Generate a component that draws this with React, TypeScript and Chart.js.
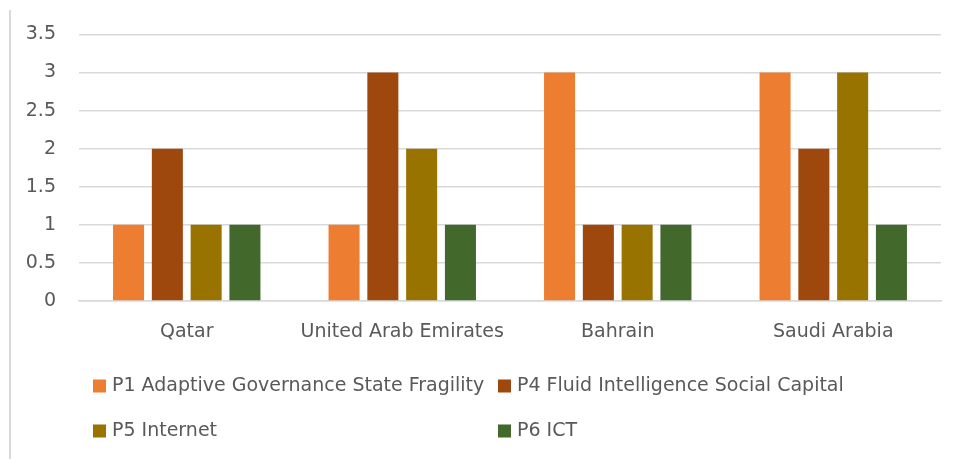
import React, { useEffect, useRef } from "react";
import { Chart, registerables } from "chart.js";

Chart.register(...registerables);

const categories = ["Qatar", "United Arab Emirates", "Bahrain", "Saudi Arabia"];
const seriesNames = [
  "P1 Adaptive Governance State Fragility",
  "P4 Fluid Intelligence Social Capital",
  "P5 Internet",
  "P6 ICT",
];
const p1Values = [1, 1, 3, 3];
const p4Values = [2, 3, 1, 2];
const p5Values = [1, 2, 1, 3];
const p6Values = [1, 1, 1, 1];
const seriesColors = ["#ED7D31", "#9E480E", "#997300", "#43682B"];

const FONT = "'DejaVu Sans', sans-serif";
const FONT_SIZE = 19;
const TEXT = "#595959";
const GRID = "#d9d9d9";

const gridLegend = {
  id: "gridLegend",
  afterDraw(chart: any) {
    const ctx = chart.ctx;
    const colX = [93, 498];
    const rowY = [386, 431];
    ctx.save();
    ctx.font = `${FONT_SIZE}px ${FONT}`;
    ctx.textBaseline = "middle";
    ctx.textAlign = "left";
    chart.data.datasets.forEach((ds: any, i: number) => {
      const x = colX[i % 2];
      const y = rowY[Math.floor(i / 2)];
      ctx.fillStyle = ds.backgroundColor;
      ctx.fillRect(x, y - 6.5, 13, 13);
      ctx.fillStyle = TEXT;
      ctx.fillText(ds.label, x + 19, y);
    });
    ctx.restore();
  },
};

export default function App() {
  const ref = useRef<HTMLCanvasElement>(null);
  useEffect(() => {
    document.body.style.margin = "0";
    const values = [p1Values, p4Values, p5Values, p6Values];
    const chart = new Chart(ref.current!, {
      type: "bar",
      data: {
        labels: categories,
        datasets: seriesNames.map((name, i) => ({
          label: name,
          data: values[i],
          backgroundColor: seriesColors[i],
          categoryPercentage: 0.72,
          barPercentage: 0.8,
        })),
      },
      options: {
        responsive: false,
        animation: false,
        layout: { padding: { top: 33, right: 25, bottom: 98, left: 0 } },
        plugins: { legend: { display: false }, tooltip: { enabled: false } },
        scales: {
          x: {
            grid: { display: false, drawTicks: false },
            border: { display: true, color: GRID, width: 1.5 },
            ticks: { color: TEXT, font: { family: FONT, size: FONT_SIZE }, padding: 20, maxRotation: 0 },
            afterFit: (s: any) => { s.height = 60; },
          },
          y: {
            min: 0,
            max: 3.5,
            grid: { color: GRID, lineWidth: 1.5, drawTicks: false },
            border: { display: false },
            ticks: {
              stepSize: 0.5,
              color: TEXT,
              font: { family: FONT, size: FONT_SIZE },
              padding: 23,
              callback: (v: any) => String(v),
            },
            afterFit: (s: any) => { s.width = 79; },
          },
        },
      },
      plugins: [gridLegend],
    });
    return () => chart.destroy();
  }, []);
  return (
    <div style={{ position: "absolute", left: 0, top: 0, width: 966, height: 459, background: "#fff" }}>
      <div style={{ position: "absolute", left: 9, top: 10, width: 0, height: 449, borderLeft: "2px solid #d9d9d9" }} />
      <canvas ref={ref} width={966} height={459} style={{ position: "absolute", left: 0, top: 0 }} />
    </div>
  );
}
